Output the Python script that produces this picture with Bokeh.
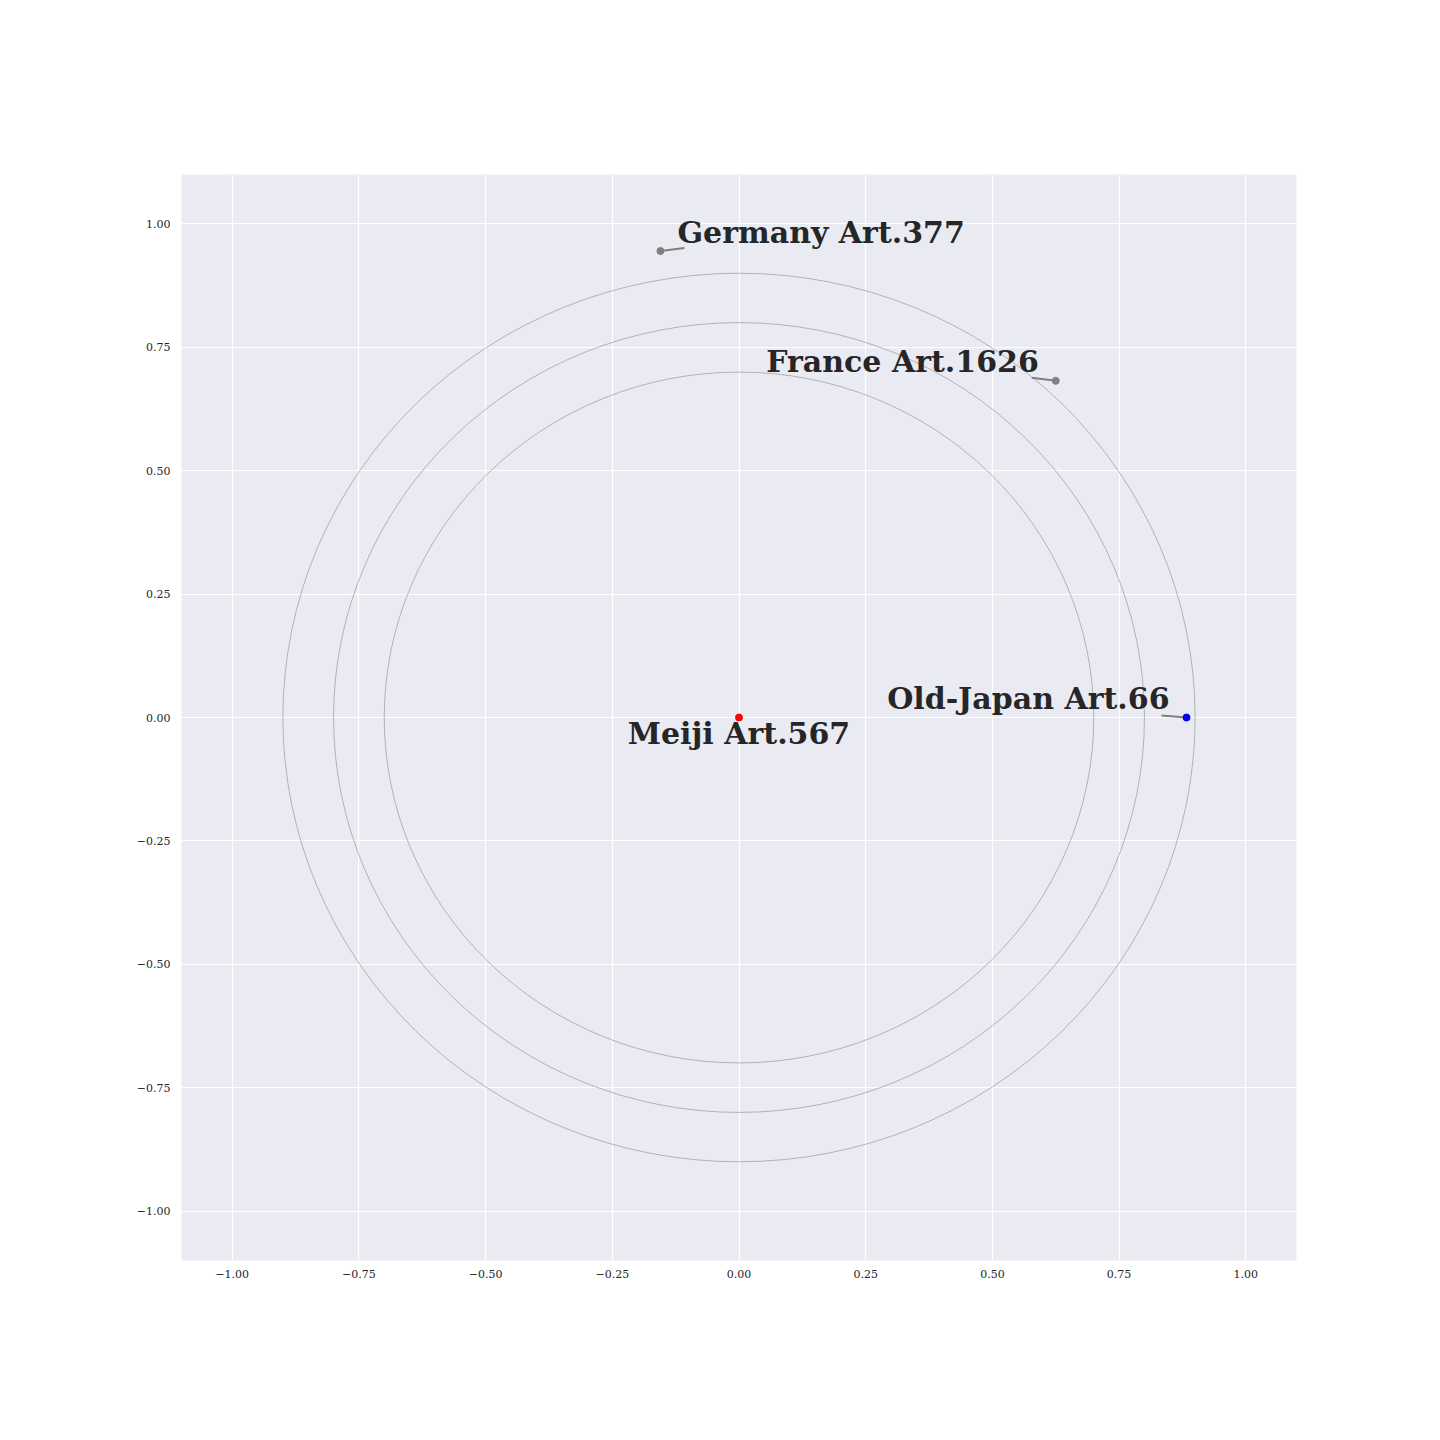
from bokeh.plotting import figure
from bokeh.embed import file_html
from bokeh.resources import INLINE
from bokeh.models import FixedTicker, Range1d
from bokeh.core.properties import value

# data
names = ["Meiji Art.567", "Old-Japan Art.66", "France Art.1626", "Germany Art.377"]
px = [0.0, 0.883, 0.625, -0.155]
py = [0.0, 0.0, 0.682, 0.945]
colors = ["red", "blue", "gray", "gray"]
ring_radii = [0.7, 0.8, 0.9]
ticks = [-1.0, -0.75, -0.5, -0.25, 0.0, 0.25, 0.5, 0.75, 1.0]
tick_labels = ["\u22121.00", "\u22120.75", "\u22120.50", "\u22120.25", "0.00", "0.25", "0.50", "0.75", "1.00"]

# label layout (pixel offsets relative to points)
lab_dx = [0, -17, -17, 17]
lab_dy = [16, -19, -19, -19]
lab_align = ["center", "right", "right", "left"]
line_dx = [0, -25, -24, 24]
line_dy = [0, -2, -3, -3]

W, H = 1440, 1440
ML, MR, MT, MB = 181, 144, 174, 180
XR = (-1.1, 1.1)
YR = (-1.1, 1.1)
fw = W - ML - MR
fh = H - MT - MB
sx = fw / (XR[1] - XR[0])
sy = fh / (YR[1] - YR[0])

p = figure(width=W, height=H, output_backend="svg", toolbar_location=None,
           x_range=Range1d(*XR), y_range=Range1d(*YR),
           min_border_left=ML, min_border_right=MR, min_border_top=MT, min_border_bottom=MB)
p.background_fill_color = "#EAEAF2"
p.border_fill_color = "white"
p.outline_line_color = None
for g in (p.xgrid, p.ygrid):
    g.grid_line_color = "white"
    g.grid_line_width = 1.2
for ax in (p.xaxis, p.yaxis):
    ax.ticker = FixedTicker(ticks=ticks)
    ax.major_label_overrides = {t: l for t, l in zip(ticks, tick_labels)}
    ax.axis_line_color = None
    ax.major_tick_line_color = None
    ax.minor_tick_line_color = None
    ax.major_tick_out = 0
    ax.major_tick_in = 0
    ax.major_label_text_font = "DejaVu Serif"
    ax.major_label_text_font_size = "11px"
    ax.major_label_text_color = "#262626"
p.xaxis.major_label_standoff = 9
p.yaxis.major_label_standoff = 11

# rings
for r in ring_radii:
    p.ellipse(x=0, y=0, width=2 * r, height=2 * r, fill_alpha=0,
              line_color="#999999", line_width=0.7)

# leader lines
for i in range(len(names)):
    if line_dx[i] == 0 and line_dy[i] == 0:
        continue
    p.segment(x0=[px[i]], y0=[py[i]],
              x1=[px[i] + line_dx[i] / sx], y1=[py[i] - line_dy[i] / sy],
              line_color="#7f7f7f", line_width=2)

# points
p.scatter(x=px, y=py, size=7, fill_color=colors, line_color=colors)

# labels
for i in range(len(names)):
    p.text(x=[px[i]], y=[py[i]], text=[names[i]], x_offset=lab_dx[i], y_offset=lab_dy[i],
           text_align=lab_align[i], text_baseline="alphabetic",
           text_font=value("DejaVu Serif"), text_font_style="bold",
           text_font_size="30px", text_color="#262626")

open("out.html", "w").write(file_html(p, INLINE))
